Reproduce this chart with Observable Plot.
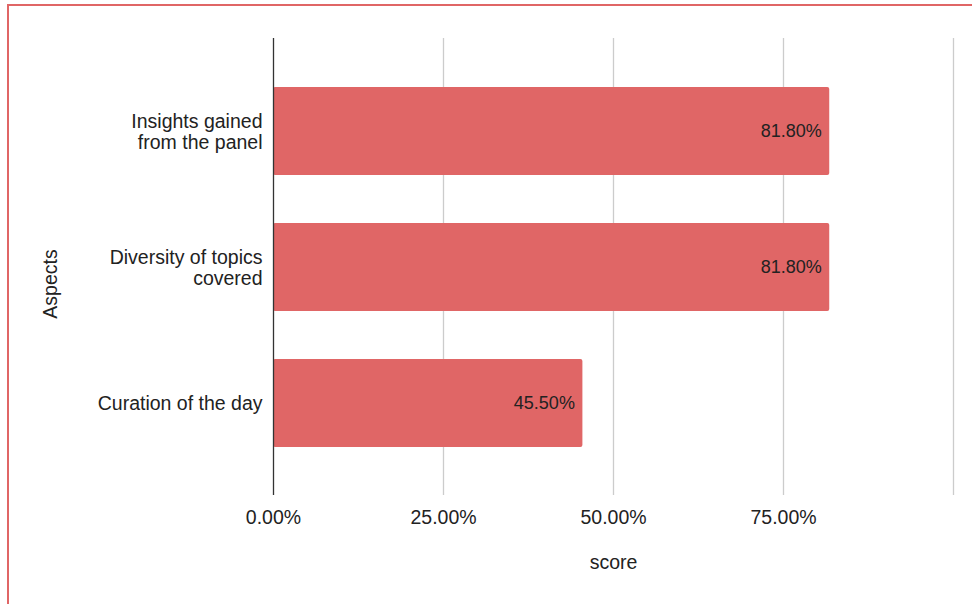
<!DOCTYPE html>
<html>
<head>
<meta charset="utf-8">
<script src="https://cdn.jsdelivr.net/npm/d3@7"></script>
<script src="https://cdn.jsdelivr.net/npm/@observablehq/plot@0.6"></script>
<style>
  html, body { margin: 0; padding: 0; background: #fff; }
  #wrap { position: relative; width: 972px; height: 604px; overflow: hidden; }
  #frame { position: absolute; left: 7px; top: 4px; width: 1000px; height: 700px;
           border-top: 2.5px solid #e06666; border-left: 2.5px solid #e06666; box-sizing: border-box; }
  #chart { position: absolute; left: 0; top: 0; }
  svg { font-family: "Liberation Sans", Arial, sans-serif; }
</style>
</head>
<body>
<div id="wrap"><div id="frame"></div><div id="chart"></div></div>
<script>
const aspects = ["Insights gained\nfrom the panel", "Diversity of topics\ncovered", "Curation of the day"];
const scores = [0.818, 0.818, 0.455];
const gridTicks = [0, 0.25, 0.5, 0.75, 1];
const labelTicks = [0, 0.25, 0.5, 0.75];
const xTitle = "score";
const yTitle = "Aspects";

const data = aspects.map((a, i) => ({aspect: a, score: scores[i]}));
const fmt = d3.format(".2%");

const chart = Plot.plot({
  width: 972,
  height: 604,
  marginLeft: 273,
  marginRight: 19,
  marginTop: 38,
  marginBottom: 109,
  style: {fontFamily: "'Liberation Sans', Arial, sans-serif", background: "transparent"},
  x: {domain: [0, 1]},
  y: {domain: aspects, paddingInner: 0.354, paddingOuter: 0.349},
  marks: [
    Plot.ruleX(gridTicks.slice(1), {stroke: "#cccccc", strokeWidth: 1.3}),
    Plot.barX(data, {x: "score", y: "aspect", fill: "#e06666", rx: 2}),
    Plot.ruleX([0], {stroke: "#333333", strokeWidth: 1.3}),
    Plot.axisX(labelTicks, {tickSize: 0, tickPadding: 15, tickFormat: fmt, fontSize: 19.5, fill: "#222", label: null}),
    Plot.axisY({tickSize: 0, tickPadding: 11, fontSize: 19.5, lineHeight: 1.1, fill: "#222", label: null}),
    Plot.text(data, {x: "score", y: "aspect", text: d => fmt(d.score), textAnchor: "end", dx: -8, fontSize: 18, fill: "#222"}),
    Plot.text([xTitle], {frameAnchor: "bottom", text: d => d, dy: 73, fontSize: 19.5, fill: "#222"}),
    Plot.text([yTitle], {frameAnchor: "left", textAnchor: "middle", text: d => d, dx: -223, dy: 17, rotate: -90, fontSize: 19.5, fill: "#222"})
  ]
});
document.getElementById("chart").appendChild(chart);
</script>
</body>
</html>
